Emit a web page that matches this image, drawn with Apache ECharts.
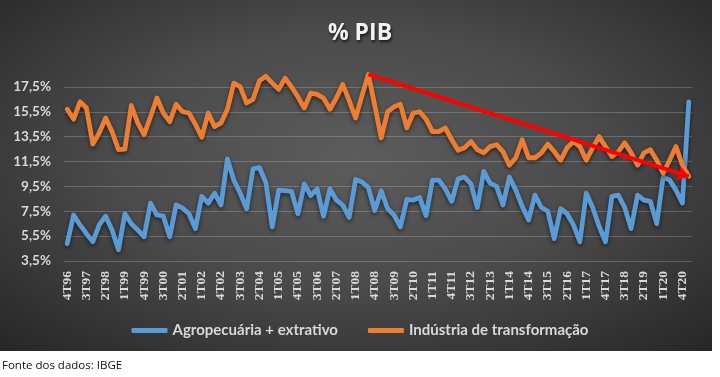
<!DOCTYPE html>
<html>
<head>
<meta charset="utf-8">
<script src="https://cdn.jsdelivr.net/npm/echarts@6/dist/echarts.min.js"></script>
<style>
  body { margin: 0; background: #fff; }
  #panel {
    position: absolute; left: 0; top: 0; width: 712px; height: 351px;
    background: radial-gradient(ellipse 75% 80% at 50% 45%, #5c5c5c 0%, #4b4b4b 45%, #2e2e2e 85%, #232323 100%);
  }
  #chart { position: absolute; left: 0; top: 0; width: 720px; height: 377px; }
  #fonte {
    position: absolute; left: 2px; top: 357px;
    font-family: "Open Sans", sans-serif; font-size: 11.5px; color: #111;
  }
</style>
</head>
<body>
<div id="panel"></div>
<div id="chart"></div>
<div id="fonte">Fonte dos dados: IBGE</div>
<script>
// trimestres 4T96 .. 1T21
var quarters = [
  '4T96',
  '1T97', '2T97', '3T97', '4T97', '1T98', '2T98', '3T98', '4T98',
  '1T99', '2T99', '3T99', '4T99', '1T00', '2T00', '3T00', '4T00',
  '1T01', '2T01', '3T01', '4T01', '1T02', '2T02', '3T02', '4T02',
  '1T03', '2T03', '3T03', '4T03', '1T04', '2T04', '3T04', '4T04',
  '1T05', '2T05', '3T05', '4T05', '1T06', '2T06', '3T06', '4T06',
  '1T07', '2T07', '3T07', '4T07', '1T08', '2T08', '3T08', '4T08',
  '1T09', '2T09', '3T09', '4T09', '1T10', '2T10', '3T10', '4T10',
  '1T11', '2T11', '3T11', '4T11', '1T12', '2T12', '3T12', '4T12',
  '1T13', '2T13', '3T13', '4T13', '1T14', '2T14', '3T14', '4T14',
  '1T15', '2T15', '3T15', '4T15', '1T16', '2T16', '3T16', '4T16',
  '1T17', '2T17', '3T17', '4T17', '1T18', '2T18', '3T18', '4T18',
  '1T19', '2T19', '3T19', '4T19', '1T20', '2T20', '3T20', '4T20',
  '1T21'
]

var agro = [
  4.9, 7.2, 6.4, 5.7, 5.05, 6.4, 7.1, 6.0, 4.4, 7.3,
  6.5, 6.0, 5.45, 8.15, 7.2, 7.1, 5.45, 8.0, 7.75, 7.3,
  6.1, 8.7, 8.15, 8.95, 8.0, 11.7, 10.0, 8.95, 7.7, 10.9,
  11.0, 9.8, 6.25, 9.2, 9.15, 9.1, 7.3, 9.7, 8.75, 9.3,
  7.1, 9.3, 8.4, 8.0, 7.0, 10.05, 9.85, 9.4, 7.55, 9.15,
  7.7, 7.2, 6.25, 8.45, 8.4, 8.6, 7.15, 10.0, 10.0, 9.3,
  8.3, 10.1, 10.25, 9.7, 7.8, 10.7, 9.75, 9.5, 8.0, 10.25,
  9.2, 7.9, 6.8, 8.8, 7.8, 7.5, 5.3, 7.7, 7.3, 6.4,
  5.05, 8.95, 7.8, 6.3, 5.05, 8.7, 8.8, 7.8, 6.1, 8.8,
  8.4, 8.3, 6.5, 10.25, 10.0, 9.2, 8.15, 16.3
]

var industria = [
  15.7, 14.9, 16.3, 15.8, 12.9, 13.8, 15.0, 13.9, 12.45, 12.5,
  16.0, 14.6, 13.65, 15.1, 16.6, 15.4, 14.7, 16.1, 15.5, 15.4,
  14.5, 13.45, 15.4, 14.3, 14.6, 15.7, 17.8, 17.5, 16.2, 16.5,
  18.0, 18.35, 17.8, 17.3, 18.2, 17.5, 16.7, 15.8, 17.0, 16.9,
  16.6, 15.7, 16.6, 17.7, 16.4, 15.0, 16.8, 18.5, 16.0, 13.4,
  15.5, 15.9, 16.1, 14.2, 15.4, 15.5, 14.9, 13.9, 13.9, 14.2,
  13.25, 12.4, 12.6, 13.1, 12.45, 12.2, 12.7, 12.85, 12.3, 11.2,
  11.8, 13.25, 11.8, 11.8, 12.2, 12.9, 12.3, 11.6, 12.6, 13.1,
  12.7, 11.6, 12.6, 13.5, 12.7, 11.9, 12.3, 13.0, 12.2, 11.2,
  12.2, 12.45, 11.6, 10.55, 11.6, 12.7, 11.2, 10.3
]

// seta de tendencia: do pico 3T08 ao ultimo trimestre
var trendStart = ['3T08', 18.5]
var trendEnd = ['1T21', 10.3]

var gridColor = 'rgba(255,255,255,0.2)'

var chart = echarts.init(document.getElementById('chart'))
var shadow = {
  shadowColor: 'rgba(0,0,0,0.55)',
  shadowBlur: 4,
  shadowOffsetY: 2
}
chart.setOption({
  backgroundColor: 'transparent',
  animation: false,
  title: {
    text: '% PIB',
    left: 'center',
    top: 17,
    textStyle: {
      color: '#f2f2f2',
      fontFamily: 'Open Sans',
      fontWeight: 'bold',
      fontSize: 23,
      textShadowColor: 'rgba(0,0,0,0.7)',
      textShadowBlur: 3,
      textShadowOffsetX: 1,
      textShadowOffsetY: 2
    }
  },
  legend: {
    left: 'center',
    top: 318,
    itemGap: 30,
    itemWidth: 36,
    itemHeight: 5,
    icon: 'roundRect',
    textStyle: {
      color: '#d9d9d9',
      fontFamily: 'Lato',
      fontWeight: 'bold',
      fontSize: 15
    },
    data: ['Agropecuária + extrativo', 'Indústria de transformação']
  },
  grid: {
    left: 64,
    right: 28,
    top: 62,
    bottom: 116
  },
  xAxis: {
    type: 'category',
    data: quarters,
    boundaryGap: true,
    axisTick: { show: false },
    axisLine: { show: false },
    axisLabel: {
      interval: 2,
      rotate: 90,
      margin: 10,
      color: '#d9d9d9',
      fontFamily: 'Liberation Serif',
      fontWeight: 'bold',
      fontSize: 13.5
    }
  },
  yAxis: {
    type: 'value',
    min: 3.5,
    max: 19.5,
    interval: 2,
    axisLabel: {
      margin: 13,
      color: '#d9d9d9',
      fontFamily: 'Lato',
      fontWeight: 'bold',
      fontSize: 13.5,
      formatter: function (v) {
        if (v > 18) return ''
        return v.toFixed(1).replace('.', ',') + '%'
      }
    },
    splitLine: {
      lineStyle: {
        color: [gridColor, gridColor, gridColor, gridColor, gridColor,
          gridColor, gridColor, gridColor, 'rgba(0,0,0,0)'],
        width: 1
      }
    }
  },
  series: [
    {
      name: 'Agropecuária + extrativo',
      type: 'line',
      data: agro,
      symbol: 'none',
      itemStyle: { color: '#5b9bd5' },
      lineStyle: Object.assign({ color: '#5b9bd5', width: 4.8, cap: 'round', join: 'round' }, shadow)
    },
    {
      name: 'Indústria de transformação',
      type: 'line',
      data: industria,
      symbol: 'none',
      itemStyle: { color: '#ed7d31' },
      lineStyle: Object.assign({ color: '#ed7d31', width: 4.8, cap: 'round', join: 'round' }, shadow),
      markLine: {
        silent: true,
        z: 10,
        symbol: ['none', 'arrow'],
        symbolSize: 12,
        label: { show: false },
        lineStyle: { color: '#ff0000', width: 4, type: 'solid' },
        data: [[{ coord: trendStart }, { coord: trendEnd }]]
      }
    }
  ]
})
</script>
</body>
</html>
